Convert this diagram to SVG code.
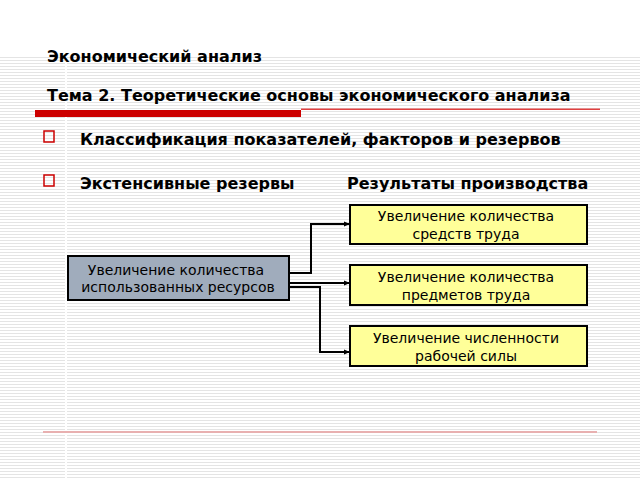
<svg xmlns="http://www.w3.org/2000/svg" width="640" height="480" viewBox="0 0 640 480">
<defs>
<pattern id="st" width="4" height="3" patternUnits="userSpaceOnUse"><rect width="4" height="3" fill="#fff"/><rect width="4" height="1" fill="#e4e4e4"/></pattern>
<marker id="a" markerWidth="6" markerHeight="6" refX="5" refY="3" orient="auto" markerUnits="userSpaceOnUse"><path d="M0,0.5 L6,3 L0,5.5z" fill="#000"/></marker>
<style>
.t{font-family:"DejaVu Sans",sans-serif;font-weight:bold;fill:#000}
.n{font-family:"DejaVu Sans",sans-serif;font-size:14px;fill:#000;text-anchor:middle}
.y{fill:#ffff99;stroke:#000;stroke-width:2}
.c{fill:none;stroke:#000;stroke-width:2;marker-end:url(#a)}
</style>
</defs>
<rect width="640" height="480" fill="#fff"/>
<rect x="0" y="55" width="640" height="425" fill="url(#st)"/>
<rect x="65" y="55" width="2" height="425" fill="#fff"/>
<text class="t" x="47" y="62" font-size="16">Экономический анализ</text>
<text class="t" x="47" y="101" font-size="16">Тема 2. Теоретические основы экономического анализа</text>
<rect x="35" y="110" width="266" height="7" fill="#cc0000"/>
<rect x="301" y="108.5" width="299" height="1.5" fill="#e04040"/>
<rect x="44" y="131" width="10" height="11" fill="none" stroke="#cc0000" stroke-width="1.5"/>
<rect x="44" y="175" width="10" height="11" fill="none" stroke="#cc0000" stroke-width="1.5"/>
<text class="t" x="80" y="145" font-size="16">Классификация показателей, факторов и резервов</text>
<text class="t" x="80" y="189" font-size="16">Экстенсивные резервы</text>
<text class="t" x="347" y="189" font-size="16">Результаты производства</text>
<rect x="43" y="431" width="554" height="2" fill="#e8b0b0"/>
<g id="connectors">
<path class="c" d="M289,273 H311 V224 H349"/>
<path class="c" d="M289,283 H349"/>
<path class="c" d="M289,287 H320 V352 H349"/>
</g>
<g id="src"><rect x="68" y="256" width="221" height="44" fill="#a0acbc" stroke="#000" stroke-width="2"/>
<text class="n" x="176" y="275">Увеличение количества</text><text class="n" x="178" y="292">использованных ресурсов</text></g>
<g id="b1"><rect class="y" x="350" y="205" width="237" height="39"/>
<text class="n" x="466" y="221">Увеличение количества</text><text class="n" x="466" y="239">средств труда</text></g>
<g id="b2"><rect class="y" x="350" y="265" width="237" height="40"/>
<text class="n" x="466" y="282">Увеличение количества</text><text class="n" x="466" y="300">предметов труда</text></g>
<g id="b3"><rect class="y" x="350" y="326" width="237" height="40"/>
<text class="n" x="466" y="343">Увеличение численности</text><text class="n" x="466" y="361">рабочей силы</text></g>
</svg>
